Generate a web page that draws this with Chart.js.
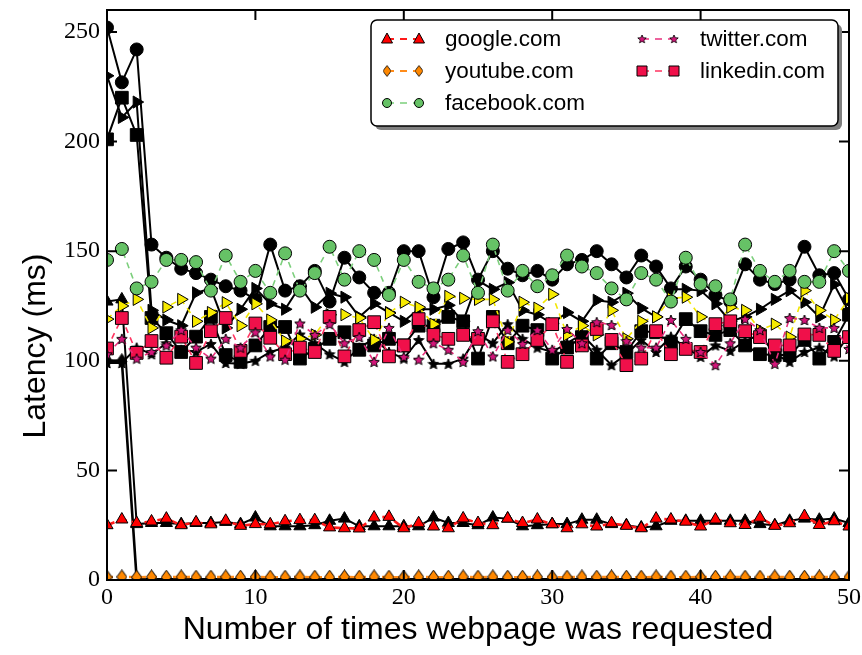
<!DOCTYPE html>
<html>
<head>
<meta charset="utf-8">
<script src="https://cdn.jsdelivr.net/npm/chart.js@4/dist/chart.umd.min.js"></script>
<style>
  html, body { margin: 0; padding: 0; background: #fff; }
  #wrap { width: 862px; height: 655px; }
</style>
</head>
<body>
<div id="wrap"><canvas id="latencyChart" width="862" height="655"></canvas></div>
<script>
// request number (x axis)
const requests = [0, 1, 2, 3, 4, 5, 6, 7, 8, 9, 10, 11, 12, 13, 14, 15, 16, 17, 18, 19, 20,
  21, 22, 23, 24, 25, 26, 27, 28, 29, 30, 31, 32, 33, 34, 35, 36, 37, 38, 39, 40,
  41, 42, 43, 44, 45, 46, 47, 48, 49, 50];

// latency in ms, first run (coloured, dashed)
const google = [25, 27.6, 26, 26.7, 28, 25, 26.3, 25.4, 27, 24.7, 25.5, 25.4, 26.8, 27.3, 27.3, 24, 23.6,
  23.5, 28.5, 28.8, 23.6, 25.9, 24.4, 23.6, 28.1, 26, 25, 28, 26, 27.6, 25.4, 23.6, 25.4, 24.4, 25.9,
  24.7, 23.6, 28, 27.6, 26.6, 24.4, 27.6, 25.9, 25.1, 28.4, 24.7, 25.9, 29.2, 25.1, 26.8, 24.4];
const youtube = [1.3, 1.4, 1.3, 1.4, 1.3, 1.4, 1.3, 1.3, 1.4, 1.3, 1.4, 1.3, 1.3, 1.4, 1.3, 1.3, 1.4,
  1.3, 1.4, 1.3, 1.3, 1.4, 1.3, 1.3, 1.4, 1.3, 1.4, 1.3, 1.3, 1.4, 1.3, 1.3, 1.4, 1.3, 1.4, 1.3,
  1.3, 1.4, 1.3, 1.3, 1.4, 1.3, 1.4, 1.3, 1.3, 1.4, 1.3, 1.3, 1.4, 1.3, 1.3];
const facebook = [146, 151, 133, 136, 146, 146, 145, 132, 148, 136, 141, 131, 149, 132, 140, 152, 137,
  150, 146, 130, 146, 136, 133, 137, 148, 131, 153, 132, 141, 134, 139, 148, 143, 140, 133, 128,
  140, 137, 127, 147, 135, 134, 128, 153, 141, 136, 141, 136, 136, 150, 141];
const twitter = [103, 110, 101, 104, 107, 114, 106, 101, 110, 106, 113, 102, 100.5, 117, 111.8, 116.7,
  108, 110.8, 99.5, 115, 101.8, 100.5, 108, 105, 99.5, 113.5, 102, 114, 107.7, 114, 105, 114.5, 108,
  117.6, 116.3, 109, 106, 106, 118.6, 110, 104, 98, 108, 119, 114, 98.6, 119.5, 118.6, 115, 115, 105.4];
const linkedin = [105.6, 119.5, 103.6, 109, 101.4, 111, 99, 113.5, 119.5, 104.5, 117, 110.5, 103, 106,
  104, 120, 102, 114, 117.6, 102, 107, 119, 111.8, 110, 111.8, 110, 118, 99.5, 103, 109.5, 116.7,
  99.5, 107, 114.5, 109.5, 98, 101, 113.5, 103, 105.4, 104, 116.7, 118, 113.5, 110.8, 107, 107, 112,
  111.8, 104.5, 110.8];
const extraSite = [119, 125, 128, 115, 124.5, 128, 118, 122, 126.5, 116, 126, 118.6, 109, 110, 111.8,
  121, 121, 119.5, 109.5, 121.7, 126.7, 124.4, 116.7, 129.4, 128.5, 128, 128, 108.6, 126.7, 124,
  130.3, 111.8, 116, 111.8, 123, 110, 118, 120, 128.5, 129, 120, 116, 124.4, 123, 114, 116.7, 110.8,
  132, 123, 118.6, 128.5];

// latency in ms, second run (black, solid)
const googleB = [127, 128, 25.5, 26, 26, 25.5, 26, 26, 26.5, 25.5, 28.5, 24.5, 24.5, 24.5, 25, 27, 28,
  24.5, 24.5, 24.5, 24.5, 24.5, 28.5, 26, 26, 25, 28.5, 28, 24.5, 25, 25.5, 25.5, 27.5, 27.5, 25.5,
  25, 24, 24.5, 27, 27, 27, 27, 27, 27, 25.5, 25, 27, 28, 27.5, 28, 26];
const youtubeB = [100, 100, 0.3, 0.3, 0.3, 0.3, 0.3, 0.3, 0.3, 0.3, 0.3, 0.3, 0.3, 0.3, 0.3, 0.3, 0.3,
  0.3, 0.3, 0.3, 0.3, 0.3, 0.3, 0.3, 0.3, 0.3, 0.3, 0.3, 0.3, 0.3, 0.3, 0.3, 0.3, 0.3, 0.3, 0.3, 0.3,
  0.3, 0.3, 0.3, 0.3, 0.3, 0.3, 0.3, 0.3, 0.3, 0.3, 0.3, 0.3, 0.3, 0.3];
const facebookB = [252, 227, 242, 153, 147, 142, 140, 137, 134, 132, 128, 153, 132, 134, 141, 127, 147,
  138, 131, 131, 150, 150, 129, 151, 154, 137, 150, 142, 139, 141, 137, 144, 146, 150, 144, 138,
  148, 143, 133, 143, 137, 130, 127, 144, 137, 135, 137, 152, 139, 140, 128];
const twitterB = [99, 99, 106, 103, 108, 105, 104, 107.7, 99, 98.6, 100, 104, 106, 112, 108, 103, 99.5,
  106, 110, 104, 101, 109.5, 98.6, 98.6, 101, 112, 108, 116.7, 110, 106, 104, 108, 112, 105, 98,
  103, 109.5, 104, 111, 106, 101.8, 107, 104.5, 109, 112, 103, 99.5, 104, 106, 102, 112];
const linkedinB = [201, 220, 203, 119.5, 112.6, 104, 111, 120, 102.6, 99.5, 107, 115.4, 115.4, 101,
  105.4, 110, 113, 105, 107, 110, 107, 116, 116, 120, 118, 101, 120, 108, 116, 114, 101, 106, 110.8,
  101, 108, 104, 113.5, 113, 108, 119, 113.5, 111.8, 114, 107, 103, 102.6, 102.6, 109.5, 101, 108.6, 121];
const extraSiteB = [230, 211, 218, 123, 118.6, 116, 131, 133, 115, 123.5, 133, 126, 123.5, 134, 124.4,
  130.8, 129, 120, 126, 122, 118, 123.5, 123.5, 125.3, 118, 136.6, 132.6, 135.7, 123, 121, 117, 122,
  118, 127.6, 126.7, 130.8, 124, 120, 132.6, 132.6, 132, 126, 118, 120, 123.5, 128, 132, 126.7, 120,
  134.8, 122];

const yTicks = [0, 50, 100, 150, 200, 250];
const xTicks = [0, 10, 20, 30, 40, 50];
const legendSites = ['google.com', 'youtube.com', 'facebook.com', 'twitter.com', 'linkedin.com'];

// filled marker sprites for shapes Chart.js does not draw itself
function starSprite(fill, size) {
  const c = document.createElement('canvas');
  c.width = c.height = size;
  const g = c.getContext('2d');
  const cx = size / 2, cy = size / 2 + 0.5, R = size / 2 - 0.5, r = R * 0.45;
  g.beginPath();
  for (let i = 0; i < 10; i++) {
    const a = -Math.PI / 2 + i * Math.PI / 5;
    const rad = i % 2 ? r : R;
    g.lineTo(cx + rad * Math.cos(a), cy + rad * Math.sin(a));
  }
  g.closePath();
  g.fillStyle = fill;
  g.fill();
  g.lineWidth = 1;
  g.strokeStyle = '#000';
  g.stroke();
  return c;
}
function diamondSprite(fill, w, h) {
  const c = document.createElement('canvas');
  c.width = w; c.height = h;
  const g = c.getContext('2d');
  g.beginPath();
  g.moveTo(w / 2, 0.5); g.lineTo(w - 0.5, h / 2); g.lineTo(w / 2, h - 0.5); g.lineTo(0.5, h / 2);
  g.closePath();
  g.fillStyle = fill;
  g.fill();
  g.lineWidth = 1;
  g.strokeStyle = '#000';
  g.stroke();
  return c;
}

const pts = vals => vals.map((v, i) => ({x: requests[i], y: v}));

function dashed(label, vals, line, fill, style, extra) {
  return Object.assign({
    label, data: pts(vals), borderColor: line, borderWidth: 1.6, borderDash: [6, 5],
    pointStyle: style, pointRadius: 7, pointBackgroundColor: fill, pointBorderColor: '#000',
    pointBorderWidth: 1, tension: 0, clip: 0
  }, extra || {});
}
function solid(label, vals, style, extra) {
  return Object.assign({
    label, data: pts(vals), borderColor: '#000', borderWidth: 2,
    pointStyle: style, pointRadius: 7, pointBackgroundColor: '#000', pointBorderColor: '#000',
    pointBorderWidth: 1, tension: 0, clip: 0
  }, extra || {});
}

const datasets = [
  dashed('google.com', google, '#ff1a1a', '#ff0000', 'triangle', {borderWidth: 2.6, borderDash: [8, 5]}),
  dashed('youtube.com', youtube, '#ff8c1a', '#ff8800', diamondSprite('#ff8800', 11, 15), {borderWidth: 2.4}),
  dashed('facebook.com', facebook, '#7ccf7c', '#66c266', 'circle', {pointRadius: 6.5}),
  dashed('twitter.com', twitter, '#e8307e', '#d4157a', starSprite('#d4157a', 12)),
  dashed('linkedin.com', linkedin, '#ff3360', '#f0104a', 'rect', {pointRadius: 9}),
  dashed('extra', extraSite, '#f2e600', '#f7ea00', 'triangle', {rotation: 90}),
  solid('google.com (2)', googleB, 'triangle'),
  solid('youtube.com (2)', youtubeB, diamondSprite('#000', 11, 15), {borderWidth: 2.6}),
  solid('facebook.com (2)', facebookB, 'circle', {pointRadius: 6.5}),
  solid('twitter.com (2)', twitterB, starSprite('#000', 12)),
  solid('linkedin.com (2)', linkedinB, 'rect', {pointRadius: 9}),
  solid('extra (2)', extraSiteB, 'triangle', {rotation: 90})
];

// legend marker, drawn with plain canvas paths
function legendMarker(ctx, ds, x, y) {
  const style = ds.pointStyle;
  ctx.save();
  ctx.fillStyle = ds.pointBackgroundColor;
  ctx.strokeStyle = '#000';
  ctx.lineWidth = 1;
  ctx.beginPath();
  if (style === 'triangle') {
    ctx.moveTo(x, y - 6); ctx.lineTo(x + 5.5, y + 4); ctx.lineTo(x - 5.5, y + 4); ctx.closePath();
  } else if (style === 'circle') {
    ctx.arc(x, y, 4.5, 0, Math.PI * 2);
  } else if (style === 'rect') {
    ctx.rect(x - 5, y - 5, 10, 10);
  } else {
    ctx.restore();
    const w = style.width * 0.8, h = style.height * 0.8;
    ctx.drawImage(style, x - w / 2, y - h / 2, w, h);
    return;
  }
  ctx.fill();
  ctx.stroke();
  ctx.restore();
}

const framePlugin = {
  id: 'frame',
  afterDatasetsDraw(chart) {
    const {ctx, chartArea: a, scales} = chart;
    ctx.save();
    ctx.strokeStyle = '#000';
    ctx.lineWidth = 2;
    ctx.strokeRect(a.left, a.top, a.right - a.left, a.bottom - a.top);
    ctx.beginPath();
    xTicks.forEach(v => {
      const px = scales.x.getPixelForValue(v);
      ctx.moveTo(px, a.bottom); ctx.lineTo(px, a.bottom - 10);
      ctx.moveTo(px, a.top); ctx.lineTo(px, a.top + 10);
    });
    yTicks.forEach(v => {
      const py = scales.y.getPixelForValue(v);
      ctx.moveTo(a.left, py); ctx.lineTo(a.left + 10, py);
      ctx.moveTo(a.right, py); ctx.lineTo(a.right - 10, py);
    });
    ctx.stroke();

    // axis titles
    ctx.fillStyle = '#000';
    ctx.font = '32px "Liberation Sans", Arial, sans-serif';
    ctx.textAlign = 'center';
    ctx.textBaseline = 'middle';
    ctx.fillText('Number of times webpage was requested', (a.left + a.right) / 2, 630);
    ctx.translate(36, 346);
    ctx.rotate(-Math.PI / 2);
    ctx.fillText('Latency (ms)', 0, 0);
    ctx.restore();
  },
  afterDraw(chart) {
    const ctx = chart.ctx;
    const box = {x: 371, y: 20, w: 467, h: 106};
    ctx.save();
    // shadow
    ctx.fillStyle = '#7f7f7f';
    roundRect(ctx, box.x + 4, box.y + 4, box.w, box.h, 6);
    ctx.fill();
    ctx.fillStyle = '#fff';
    ctx.strokeStyle = '#000';
    ctx.lineWidth = 1.5;
    roundRect(ctx, box.x, box.y, box.w, box.h, 6);
    ctx.fill();
    ctx.stroke();

    ctx.font = '22.5px "Liberation Sans", Arial, sans-serif';
    ctx.textBaseline = 'middle';
    ctx.fillStyle = '#000';
    const rows = [39, 71, 103];
    legendSites.forEach((name, i) => {
      const ds = chart.data.datasets.find(d => d.label === name);
      const col = i < 3 ? 0 : 1;
      const y = rows[i % 3];
      const m1 = col ? 642 : 387, m2 = col ? 674 : 419, tx = col ? 700 : 445;
      ctx.save();
      ctx.strokeStyle = ds.borderColor;
      ctx.lineWidth = Math.min(ds.borderWidth, 2.2);
      ctx.setLineDash([7, 6]);
      ctx.beginPath();
      ctx.moveTo(m1, y); ctx.lineTo(m2, y);
      ctx.stroke();
      ctx.restore();
      legendMarker(ctx, ds, m1, y);
      legendMarker(ctx, ds, m2, y);
      ctx.fillText(name, tx, y + 1);
    });
    ctx.restore();
  }
};

function roundRect(ctx, x, y, w, h, r) {
  ctx.beginPath();
  ctx.moveTo(x + r, y);
  ctx.arcTo(x + w, y, x + w, y + h, r);
  ctx.arcTo(x + w, y + h, x, y + h, r);
  ctx.arcTo(x, y + h, x, y, r);
  ctx.arcTo(x, y, x + w, y, r);
  ctx.closePath();
}

const tickFont = {family: '"Liberation Serif", "Times New Roman", serif', size: 24};

new Chart(document.getElementById('latencyChart').getContext('2d'), {
  type: 'line',
  data: {datasets},
  options: {
    responsive: false,
    animation: false,
    layout: {padding: {top: 7, right: 13, left: 0, bottom: 0}},
    plugins: {legend: {display: false}, tooltip: {enabled: false}},
    scales: {
      x: {
        type: 'linear', min: 0, max: 50,
        afterBuildTicks: s => { s.ticks = xTicks.map(v => ({value: v})); },
        afterFit: s => { s.height = 75; s.paddingLeft = 0; s.paddingRight = 0; },
        ticks: {font: tickFont, color: '#000', padding: 3, maxRotation: 0},
        grid: {display: false, drawTicks: false},
        border: {display: false}
      },
      y: {
        min: 0, max: 260,
        afterBuildTicks: s => { s.ticks = yTicks.map(v => ({value: v})); },
        afterFit: s => { s.width = 107; s.paddingTop = 0; s.paddingBottom = 0; },
        ticks: {font: tickFont, color: '#000', padding: 7},
        grid: {display: false, drawTicks: false},
        border: {display: false}
      }
    }
  },
  plugins: [framePlugin]
});
</script>
</body>
</html>
